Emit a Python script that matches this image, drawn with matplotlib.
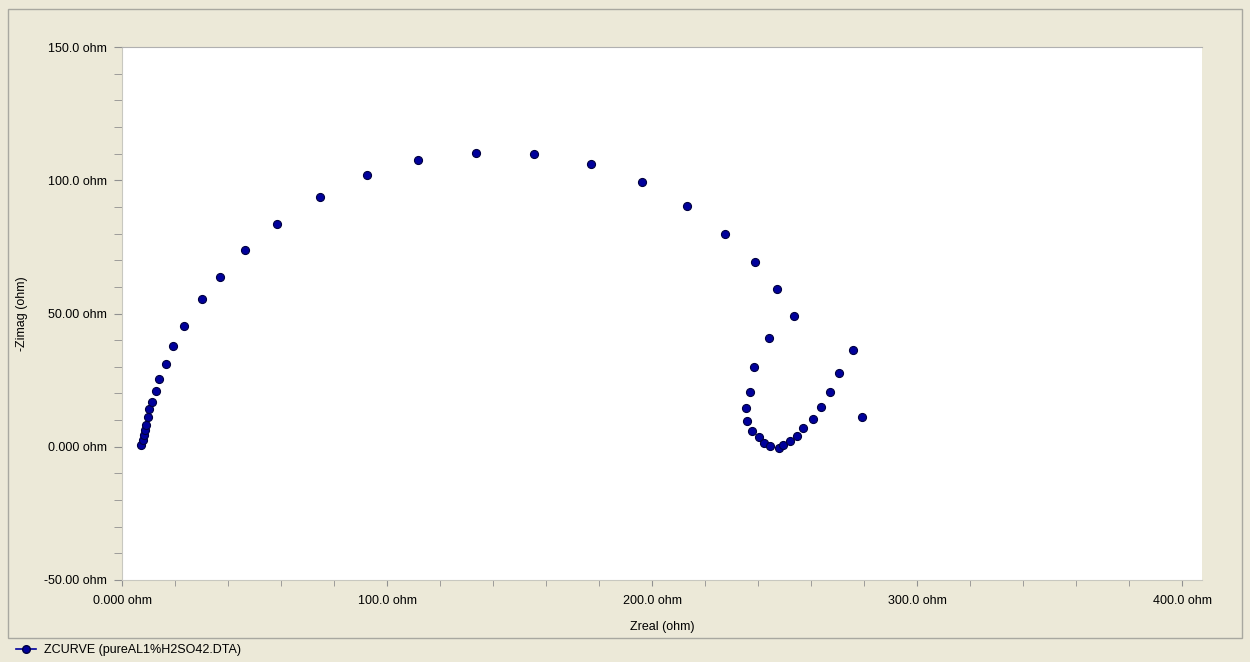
#!/usr/bin/env python3
"""Nyquist plot of ZCURVE (pureAL1%H2SO42.DTA)."""

import matplotlib
matplotlib.use("Agg")
import matplotlib.pyplot as plt
from matplotlib.lines import Line2D
from matplotlib.patches import Rectangle
from matplotlib.ticker import MultipleLocator

# =============================================================================
# Data
# =============================================================================
zreal = [7.17, 7.81, 8.30, 8.68, 9.17, 9.70, 10.19, 11.21, 12.72, 13.96,
         16.49, 19.25, 23.51, 30.30, 36.87, 46.53, 58.38, 74.72, 92.34, 111.81,
         133.47, 155.47, 176.98, 196.34, 213.09, 227.43, 238.75, 247.06, 253.66,
         244.0, 238.38, 236.87, 235.36, 235.96, 237.85, 240.38, 242.38, 244.53,
         247.81, 249.32, 252.08, 254.60, 257.09, 260.87, 263.66, 267.06, 270.45,
         275.96, 279.36]
zimag_neg = [0.64, 2.51, 4.39, 6.27, 8.14, 11.03, 14.03, 16.89, 21.01, 25.29,
             31.03, 37.79, 45.40, 55.42, 63.79, 73.81, 83.45, 93.81, 101.84, 107.58,
             110.32, 109.94, 106.19, 99.44, 90.43, 79.92, 69.42, 59.06, 49.12,
             40.8, 29.79, 20.64, 14.63, 9.64, 6.00, 3.53, 1.28, 0.38,
             -0.38, 0.64, 2.14, 4.02, 6.90, 10.28, 15.01, 20.64, 27.77,
             36.29, 11.26]

x_ticks = [0, 100, 200, 300, 400]
x_tick_labels = ["0.000 ohm", "100.0 ohm", "200.0 ohm", "300.0 ohm", "400.0 ohm"]
y_ticks = [-50, 0, 50, 100, 150]
y_tick_labels = ["-50.00 ohm", "0.000 ohm", "50.00 ohm", "100.0 ohm", "150.0 ohm"]
series_label = "ZCURVE (pureAL1%H2SO42.DTA)"

# =============================================================================
# Style
# =============================================================================
BG = "#ECE9D8"
MARKER_FACE = "#00009C"
MARKER_EDGE = "#000040"
FRAME = "#A8A8A0"
plt.rcParams["font.family"] = ["Liberation Sans", "DejaVu Sans"]
plt.rcParams["font.size"] = 9

fig = plt.figure(figsize=(12.5, 6.62), dpi=100, facecolor=BG)
ax = fig.add_axes([122 / 1250, 1 - 580 / 662, 1080 / 1250, 533 / 662])
ax.set_facecolor("white")

ax.plot(zreal, zimag_neg, linestyle="none", marker="o", markersize=5.8,
        markerfacecolor=MARKER_FACE, markeredgecolor=MARKER_EDGE,
        markeredgewidth=0.8)

ax.set_xlim(0, 407.5)
ax.set_ylim(-50, 150)
ax.set_xticks(x_ticks)
ax.set_xticklabels(x_tick_labels)
ax.set_yticks(y_ticks)
ax.set_yticklabels(y_tick_labels)
ax.xaxis.set_minor_locator(MultipleLocator(20))
ax.yaxis.set_minor_locator(MultipleLocator(10))
ax.tick_params(axis="both", which="both", direction="out", colors="#909090",
               labelcolor="black", labelsize=9)
ax.tick_params(axis="x", which="both", length=4, pad=7)
ax.tick_params(axis="y", which="both", length=6, pad=5)

ax.spines["right"].set_visible(False)
ax.spines["top"].set_color("#B0B0B0")
ax.spines["left"].set_color("#C8C8C0")
ax.spines["bottom"].set_color("#C8C8C0")
ax.spines["left"].set_linewidth(0.8)
ax.spines["bottom"].set_linewidth(0.8)

ax.set_xlabel("Zreal (ohm)", fontsize=9, labelpad=10)
ax.set_ylabel("-Zimag (ohm)", fontsize=9)
ax.yaxis.set_label_coords(-94 / 1080, 0.5)

# outer frame and legend strip
fig.add_artist(Rectangle((8 / 1250, 1 - 638 / 662), 1234 / 1250, 629 / 662,
                         transform=fig.transFigure, fill=False,
                         edgecolor=FRAME, linewidth=1.0))

handle = Line2D([], [], color=MARKER_FACE, linewidth=1.2, marker="o",
                markersize=5.5, markerfacecolor=MARKER_FACE,
                markeredgecolor=MARKER_EDGE)
fig.legend([handle], [series_label], loc="center left",
           bbox_to_anchor=(0.004, 1 - 650 / 662), frameon=False,
           handlelength=1.6, handletextpad=0.6, fontsize=9)

plt.savefig("out.png", dpi=100, facecolor=BG)
plt.close()
